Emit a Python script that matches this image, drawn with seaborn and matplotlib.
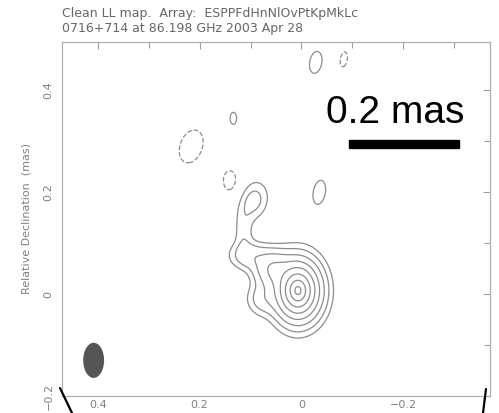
import numpy as np
import matplotlib
matplotlib.use("Agg")
import matplotlib.pyplot as plt
from matplotlib.patches import Ellipse, Rectangle
from matplotlib.lines import Line2D
import seaborn as sns

# Clean-map model components (relative RA / Dec in mas, peak in units of the lowest contour).
# comp_power: 2 = Gaussian profile, 1 = exponential (cuspy) profile
comp_name = ["core", "jet0", "jet1", "jet2", "bridge", "knot",
             "s1", "s2", "s3", "n1", "n2", "n3"]
comp_x = [0.007, 0.077, 0.057, 0.104, 0.114, 0.094,
          0.134, -0.028, -0.035, -0.083, 0.2165, 0.140]
comp_y = [0.007, -0.010, 0.049, 0.076, 0.124, 0.184,
          0.345, 0.455, 0.200, 0.461, 0.290, 0.222]
comp_amp = [200.0, 2.5, 7.0, 3.0, 1.6, 2.6,
            1.3, 1.3, 1.3, -1.3, -1.3, -1.3]
comp_sx = [0.0066, 0.020, 0.022, 0.025, 0.012, 0.019,
           0.0096, 0.0164, 0.0164, 0.0096, 0.030, 0.0177]
comp_sy = [0.0088, 0.020, 0.022, 0.018, 0.030, 0.026,
           0.0177, 0.030, 0.0327, 0.0205, 0.046, 0.0272]
comp_tilt = [0, 0, 0, 0, 0, 15,
             0, 10, 10, 10, 20, 0]
comp_power = [1, 2, 2, 2, 2, 2,
              2, 2, 2, 2, 2, 2]

# contour levels (multiples of the lowest level)
levels = [-1, 1, 2, 4, 8, 16, 32, 64, 128]

# restoring beam (centre, FWHM sizes in mas)
beam_x, beam_y, beam_w, beam_h = 0.408, -0.130, 0.041, 0.069

title1 = "Clean LL map.  Array:  ESPPFdHnNlOvPtKpMkLc"
title2 = "0716+714 at 86.198 GHz 2003 Apr 28"
scale_text = "0.2 mas"

sns.set_style("white")
plt.rcParams["font.family"] = ["DejaVu Sans"]

fig = plt.figure(figsize=(4.99, 4.13), dpi=100)
ax = fig.add_axes([62 / 499, 17 / 413, 428 / 499, 354 / 413])

gx = np.linspace(-0.40, 0.50, 540)
gy = np.linspace(-0.22, 0.52, 450)
X, Y = np.meshgrid(gx, gy)
field = np.zeros_like(X)
for x0, y0, a, sx, sy, t, p in zip(comp_x, comp_y, comp_amp, comp_sx, comp_sy,
                                   comp_tilt, comp_power):
    dxi = -(X - x0)
    dy = Y - y0
    tr = np.deg2rad(t)
    u = dxi * np.cos(tr) - dy * np.sin(tr)
    v = dxi * np.sin(tr) + dy * np.cos(tr)
    q = (u / sx) ** 2 + (v / sy) ** 2
    field += a * np.exp(-0.5 * q ** (p / 2))

ax.contour(X, Y, field, levels=levels, colors="#8c8c8c", linewidths=0.9)

ax.add_patch(Ellipse((beam_x, beam_y), beam_w, beam_h, facecolor="#555555", edgecolor="none"))

ax.set_xlim(0.47, -0.37)
ax.set_ylim(-0.198, 0.495)
ax.set_aspect("equal", adjustable="box")

ax.set_xticks([0.4, 0.2, 0, -0.2])
ax.set_xticklabels(["0.4", "0.2", "0", "\u22120.2"])
ax.set_yticks([-0.2, 0, 0.2, 0.4])
ax.set_yticklabels(["\u22120.2", "0", "0.2", "0.4"], rotation=90, va="center")
ax.set_xticks([0.3, 0.1, -0.1, -0.3], minor=True)
ax.set_yticks([-0.1, 0.1, 0.3], minor=True)
ax.tick_params(which="both", direction="in", top=True, right=True, colors="#a0a0a0",
               labelcolor="#808080", labelsize=8, width=0.8)
ax.tick_params(which="major", length=5, pad=3)
ax.tick_params(axis="y", which="major", pad=6)
ax.tick_params(which="minor", length=4)
for s in ax.spines.values():
    s.set_color("#b0b0b0")
    s.set_linewidth(0.9)
ax.set_ylabel("Relative Declination  (mas)", color="#808080", fontsize=8, labelpad=9)

fig.text(62 / 499, 1 - 17 / 413, title1, color="#666666", fontsize=9, ha="left", va="baseline")
fig.text(62 / 499, 1 - 32 / 413, title2, color="#666666", fontsize=9, ha="left", va="baseline")

fig.text(326 / 499, 1 - 123 / 413, scale_text, family="Liberation Sans", fontsize=28,
         color="black", ha="left", va="baseline")
fig.add_artist(Rectangle((349 / 499, 1 - 148 / 413), 110 / 499, 8 / 413,
                         transform=fig.transFigure, color="black"))

fig.add_artist(Line2D([60 / 499, 72 / 499], [1 - 388 / 413, 0], transform=fig.transFigure,
                      color="black", linewidth=1.6))
fig.add_artist(Line2D([486 / 499, 483 / 499], [1 - 389 / 413, 0], transform=fig.transFigure,
                      color="black", linewidth=1.6))

fig.savefig("out.png", dpi=100)
